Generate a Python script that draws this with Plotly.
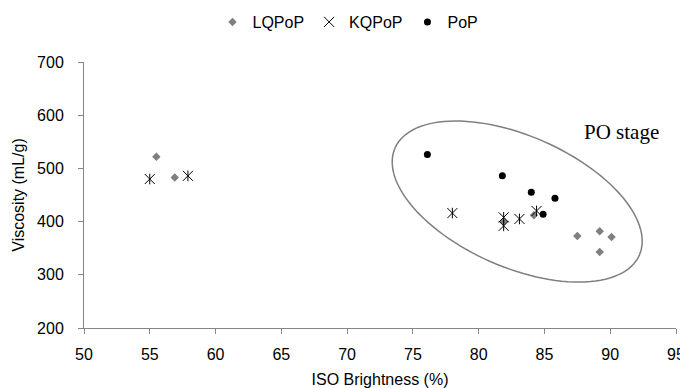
import numpy as np
import plotly.graph_objects as go

# ---- data ----
lq_x = [55.5, 56.9, 81.9, 84.2, 87.5, 89.2, 89.2, 90.1]
lq_y = [522, 483, 400, 412, 373, 382, 343, 371]
kq_x = [55.0, 57.9, 78.0, 81.9, 81.9, 83.1, 84.4]
kq_y = [480, 486, 416, 408, 392, 405, 420]
po_x = [76.1, 81.8, 84.0, 85.8, 84.9]
po_y = [526, 486, 455, 444, 414]

x_ticks = [50, 55, 60, 65, 70, 75, 80, 85, 90, 95]
y_ticks = [200, 300, 400, 500, 600, 700]

# ---- layout geometry (page body has an 8px margin) ----
W, H = 680, 380
ml, mr, mt, mb = 76, 12, 54, 60
xr = [50, 95]
yr = [200, 700]
sx = (W - ml - mr) / (xr[1] - xr[0])   # px per x unit
sy = (H - mt - mb) / (yr[1] - yr[0])   # px per y unit

# ellipse (center in data units, semi-axes in px, rotation in degrees, clockwise on screen)
ell_cx, ell_cy = 82.93, 437.7
ell_a, ell_b, ell_ang = 133.4, 65.7, 23.65

th = np.radians(ell_ang)
t = np.linspace(0, 2 * np.pi, 121)
px = ell_a * np.cos(t) * np.cos(th) - ell_b * np.sin(t) * np.sin(th)
py = ell_a * np.cos(t) * np.sin(th) + ell_b * np.sin(t) * np.cos(th)
ex = ell_cx + px / sx
ey = ell_cy - py / sy
path = "M " + " L ".join(f"{a:.4f},{b:.4f}" for a, b in zip(ex, ey)) + " Z"

FONT = "Liberation Sans, Arial, sans-serif"
GRAY = "#7f7f7f"
AX = "#868686"

fig = go.Figure()
fig.add_trace(go.Scatter(
    x=lq_x, y=lq_y, mode="markers", name="LQPoP",
    marker=dict(symbol="diamond", size=6.5, color=GRAY, line=dict(width=0)),
))
fig.add_trace(go.Scatter(
    x=kq_x, y=kq_y, mode="markers", name="KQPoP", legendgroup="kq",
    marker=dict(symbol="x-thin-open", size=10, color="black",
                line=dict(width=1, color="black")),
))
fig.add_trace(go.Scatter(
    x=kq_x, y=kq_y, mode="markers", name="KQPoP", legendgroup="kq",
    showlegend=False,
    marker=dict(symbol="line-ns-open", size=7.6, color="black",
                line=dict(width=1, color="black")),
))
fig.add_trace(go.Scatter(
    x=po_x, y=po_y, mode="markers", name="PoP",
    marker=dict(symbol="circle", size=7, color="black", line=dict(width=0)),
))

fig.add_shape(type="path", path=path, xref="x", yref="y",
              line=dict(color=GRAY, width=1.5), fillcolor="rgba(0,0,0,0)",
              layer="below")

fig.add_annotation(x=90.85, y=569, xref="x", yref="y", text="PO stage",
                   showarrow=False,
                   font=dict(family="Liberation Serif, Times New Roman, serif",
                             size=21, color="black"))

fig.update_layout(
    width=W, height=H,
    margin=dict(l=ml, r=mr, t=mt, b=mb, autoexpand=False),
    paper_bgcolor="white", plot_bgcolor="white",
    font=dict(family=FONT, size=16, color="black"),
    showlegend=True,
    legend=dict(orientation="h", xref="container", yref="container",
                x=0.5, xanchor="center", y=1 - 14 / H, yanchor="middle",
                font=dict(size=16), itemwidth=30, tracegroupgap=0,
                bgcolor="rgba(0,0,0,0)"),
    xaxis=dict(range=xr, tickvals=x_ticks, ticktext=[str(v) for v in x_ticks],
               showgrid=False, zeroline=False, showline=True, automargin=False,
               linecolor=AX, linewidth=1, ticks="outside", ticklen=5,
               tickcolor=AX, tickwidth=1, ticklabelstandoff=7,
               title=dict(text="ISO Brightness (%)", standoff=12,
                          font=dict(size=16))),
    yaxis=dict(range=yr, tickvals=y_ticks, ticktext=[str(v) for v in y_ticks],
               showgrid=False, zeroline=False, showline=True, automargin=False,
               linecolor=AX, linewidth=1, ticks="outside", ticklen=5,
               tickcolor=AX, tickwidth=1, ticklabelstandoff=11,
               title=dict(text="Viscosity (mL/g)", standoff=8,
                          font=dict(size=16))),
)

fig.write_html("out.html")
